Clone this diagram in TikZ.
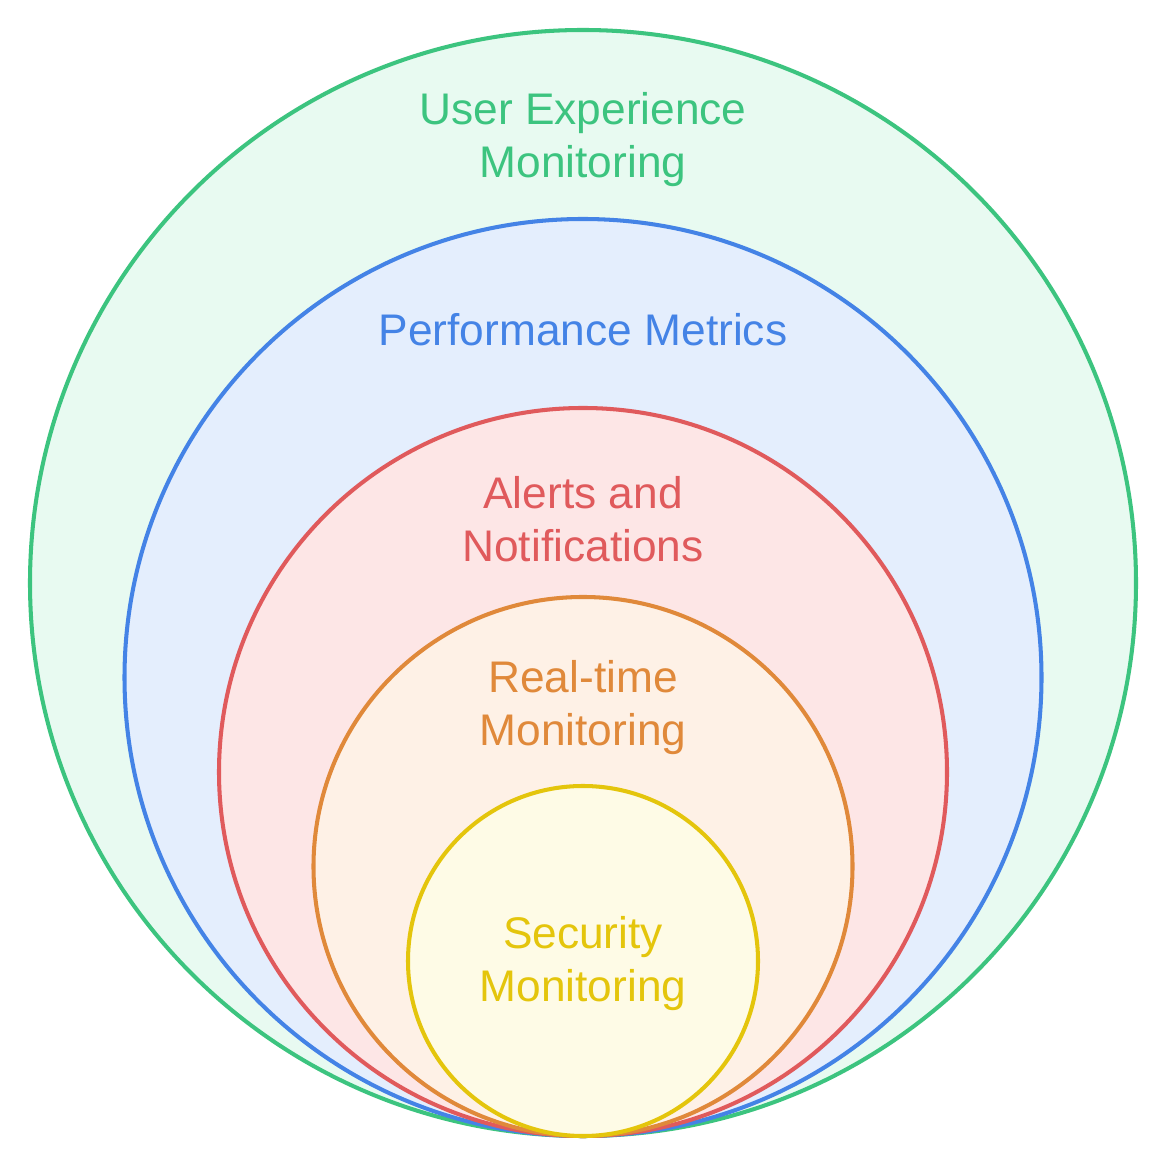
\documentclass[tikz,border=0pt]{standalone}
\usepackage{fontspec}
\setmainfont{Liberation Sans}
\usepackage{tikz}
\usetikzlibrary{positioning}
\definecolor{uxgruen}{HTML}{3CC47F}
\definecolor{uxhell}{HTML}{E8FAF1}
\definecolor{perfblau}{HTML}{4483E6}
\definecolor{perfhell}{HTML}{E4EEFD}
\definecolor{alarmrot}{HTML}{E05A5C}
\definecolor{alarmhell}{HTML}{FDE6E6}
\definecolor{echtorange}{HTML}{E0893A}
\definecolor{echthell}{HTML}{FEF1E6}
\definecolor{sichergelb}{HTML}{E4C50C}
\definecolor{sicherhell}{HTML}{FEFBE6}

\begin{document}
\begin{tikzpicture}[ring/.style={line width=1.15pt},
    every node/.style={font=\fontsize{12.6}{15.1}\selectfont, align=center}]
      \useasboundingbox[fill=white] (0,0) rectangle (11.66,11.66);
      % User Experience
      \draw[ring, uxgruen, fill=uxhell] (5.83,5.83) circle (5.53);
      % Performance
      \draw[ring, perfblau, fill=perfhell] (5.83,4.885) circle (4.585);
      % Alerts
      \draw[ring, alarmrot, fill=alarmhell] (5.83,3.94) circle (3.64);
      % Real-time
      \draw[ring, echtorange, fill=echthell] (5.83,2.995) circle (2.695);
      % Security
      \draw[ring, sichergelb, fill=sicherhell] (5.83,2.05) circle (1.75);
      % labels
      \node[text=uxgruen] (ux) at (5.83,10.26) {User Experience\\Monitoring};
      \node[text=perfblau] (perf) at (5.83,8.36) {Performance Metrics};
      \node[text=alarmrot] (alarm) at (5.83,6.47) {Alerts and\\Notifications};
      \node[text=echtorange] (echt) at (5.83,4.585) {Real-time\\Monitoring};
      \node[text=sichergelb] (sicher) at (5.83,2.02) {Security\\Monitoring};
    \end{tikzpicture}
\end{document}
